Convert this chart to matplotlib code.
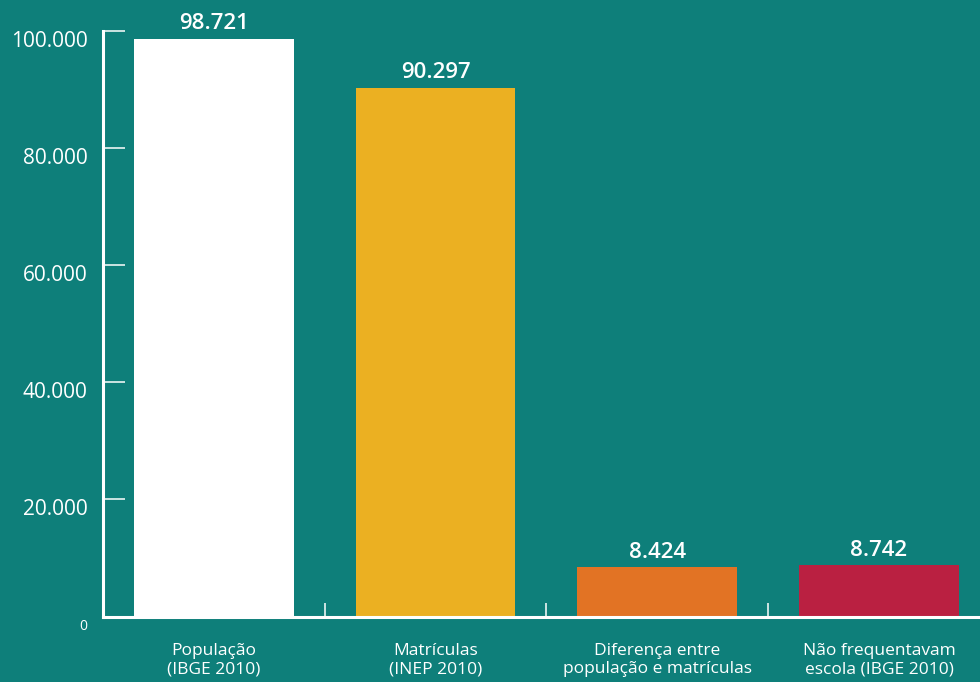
import matplotlib.pyplot as plt
from matplotlib.transforms import ScaledTranslation

categories = [
    "População\n(IBGE 2010)",
    "Matrículas\n(INEP 2010)",
    "Diferença entre\npopulação e matrículas",
    "Não frequentavam\nescola (IBGE 2010)",
]
values = [98721, 90297, 8424, 8742]
value_labels = ["98.721", "90.297", "8.424", "8.742"]
yticks = [0, 20000, 40000, 60000, 80000, 100000]
ytick_labels = ["0", "20.000", "40.000", "60.000", "80.000", "100.000"]

bg = "#0e7f7a"
colors = ["#ffffff", "#ebb022", "#e27324", "#ba2041"]

plt.rcParams["font.family"] = ["Open Sans", "DejaVu Sans"]

fig = plt.figure(figsize=(9.8, 6.82), dpi=100, facecolor=bg)
ax = fig.add_axes([0.105, 0.096, 0.905, 0.858], facecolor=bg)

x = range(len(categories))
ax.bar(x, values, width=0.72, color=colors, zorder=2)

for i, (v, lab) in enumerate(zip(values, value_labels)):
    ax.annotate(lab, (i, v), xytext=(0, 7), textcoords="offset points",
                ha="center", va="baseline", color="white", fontsize=16,
                fontweight="semibold")

ax.set_xlim(-0.5, 3.5)
ax.set_ylim(0, 100000)

# spines
for s in ["top", "right"]:
    ax.spines[s].set_visible(False)
for s in ["left", "bottom"]:
    ax.spines[s].set_color("white")
    ax.spines[s].set_linewidth(2.2)
    ax.spines[s].set_zorder(3)

# y axis
ax.set_yticks(yticks)
ax.set_yticklabels(ytick_labels)
ax.tick_params(axis="y", direction="in", length=16, width=1.1, color="white",
               labelcolor="white", labelsize=15, pad=11)
offset = ScaledTranslation(0, -0.075, fig.dpi_scale_trans)
for i, t in enumerate(ax.get_yticklabels()):
    t.set_transform(t.get_transform() + offset)
    if i == 0:
        t.set_fontsize(10)
ax.yaxis.get_major_ticks()[0].tick1line.set_visible(False)

# x axis
ax.set_xticks(list(x))
ax.set_xticklabels(categories, linespacing=1.2)
ax.set_xticks([0.5, 1.5, 2.5], minor=True)
ax.tick_params(axis="x", which="major", length=0, labelcolor="white",
               labelsize=12.5, pad=19)
ax.tick_params(axis="x", which="minor", direction="in", length=10, width=1.1,
               color="white")

fig.savefig("out.png", dpi=100, facecolor=bg)
